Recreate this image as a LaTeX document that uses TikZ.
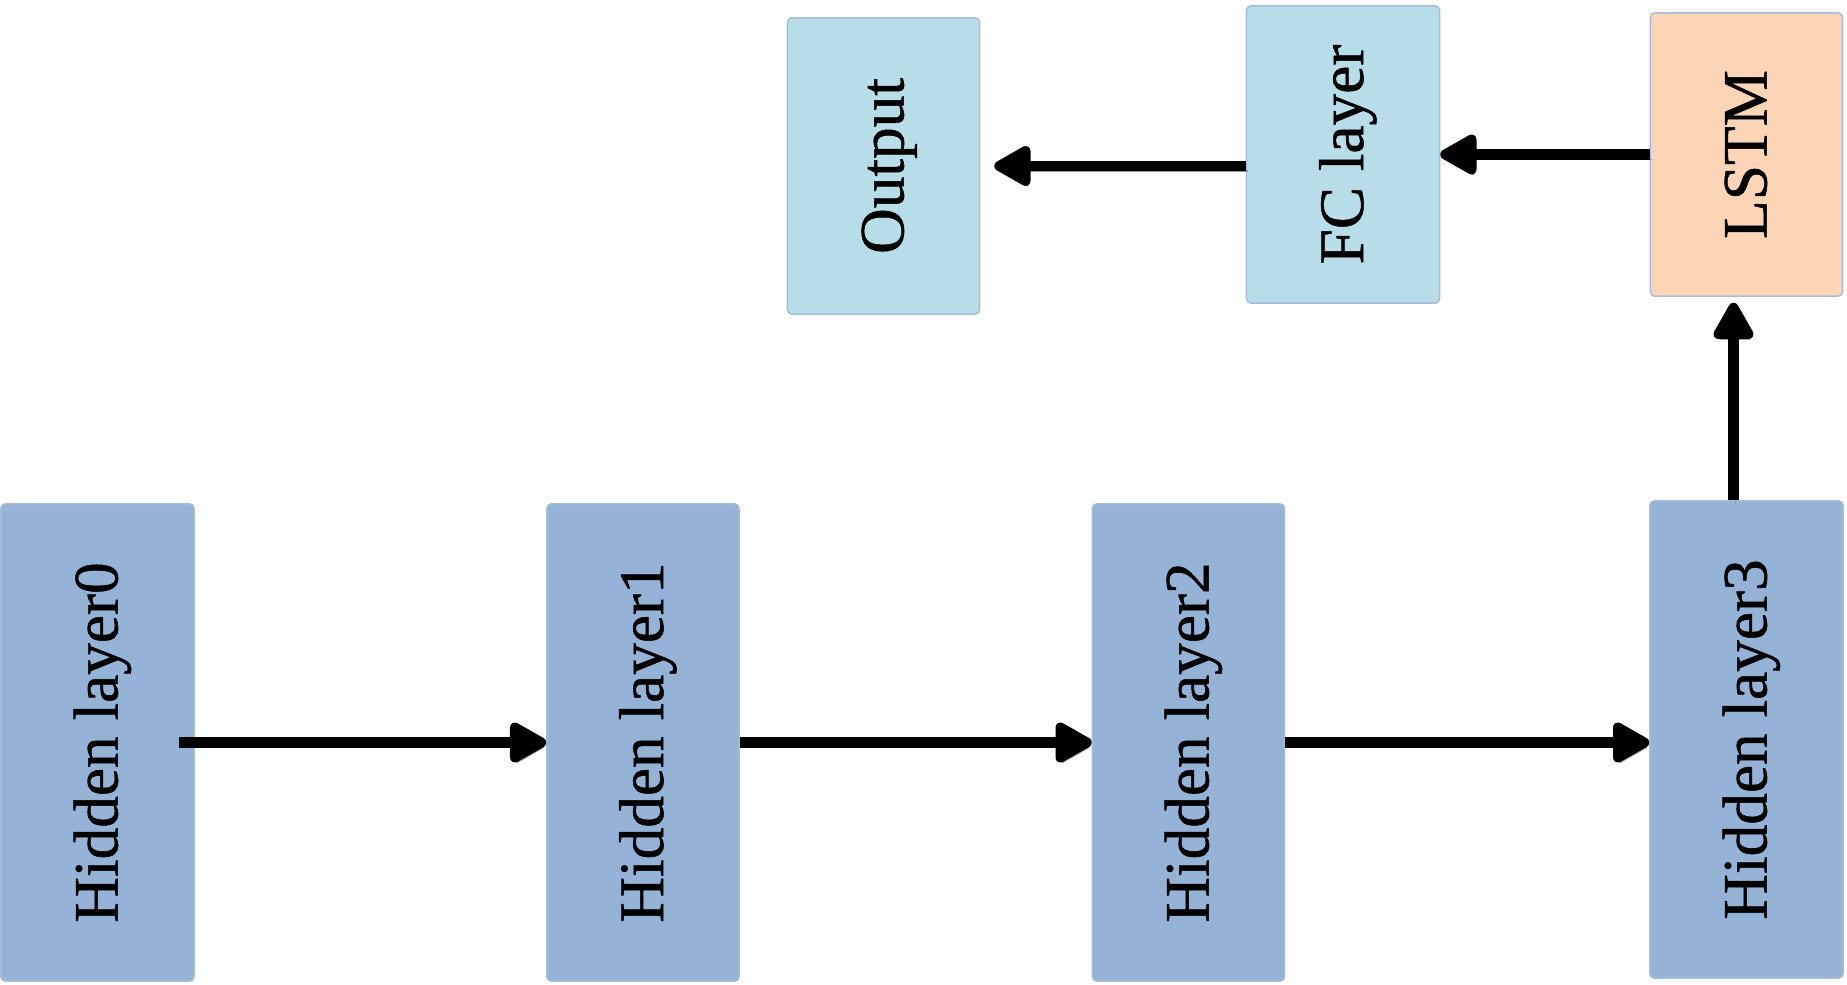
\documentclass[tikz,border=0pt]{standalone}
\usepackage{fontspec}
\setmainfont{Liberation Serif}
\newfontfamily\labelfont{Liberation Serif}[FakeBold=0.8]
\usepackage{xcolor}
\usetikzlibrary{positioning, calc, arrows.meta}

\definecolor{hiddenblue}{HTML}{95B3D7}
\definecolor{fcaqua}{HTML}{B7DDE8}
\definecolor{lstmorange}{HTML}{FBD5B5}
\definecolor{edgeblue}{HTML}{A3BDDB}

\tikzset{
    layerbox/.style={draw=edgeblue, line width=0.4pt, rounded corners=1.2pt,
        minimum width=1.92cm, text=black, font=\labelfont\fontsize{18}{20}\selectfont,
        rotate=90, inner sep=0pt, text height=0.54cm, text depth=0.14cm},
    arr/.style={line width=0.1cm, -{Triangle[length=0.42cm, width=0.44cm, round]},
        preaction={draw=black!40, transform canvas={xshift=0.02cm, yshift=-0.05cm}}}
}

\begin{document}
\begin{tikzpicture}[x=0.01cm, y=-0.01cm]
                    \useasboundingbox (0,0) rectangle (1847,985);
                    \node[layerbox, fill=hiddenblue, minimum height=1.93cm, minimum width=4.77cm] (h0) at (97.5,742.5) {Hidden layer0};
                    \node[layerbox, fill=hiddenblue, minimum height=1.92cm, minimum width=4.77cm] (h1) at (643,742.5) {Hidden layer1};
                    \node[layerbox, fill=hiddenblue, minimum height=1.92cm, minimum width=4.77cm] (h2) at (1188.5,742.5) {Hidden layer2};
                    \node[layerbox, fill=hiddenblue, minimum height=1.93cm, minimum width=4.77cm] (h3) at (1746.5,739.5) {Hidden layer3};
                    \node[layerbox, fill=fcaqua, minimum height=1.92cm, minimum width=2.96cm] (out) at (883.5,166) {Output};
                    \node[layerbox, fill=fcaqua, minimum height=1.93cm, minimum width=2.97cm] (fc) at (1343,154.5) {FC layer};
                    \node[layerbox, fill=lstmorange, minimum height=1.92cm, minimum width=2.83cm] (lstm) at (1746.5,154.5) {LSTM};
                    \draw[arr, shorten <=-0.16cm] (h0.south) -- (h1.north);
                    \draw[arr] (h1.south) -- (h2.north);
                    \draw[arr] (h2.south) -- (h3.north |- h2.north);
                    \draw[arr, shorten >=0.06cm] ([xshift=-0.13cm]h3.east) -- ([xshift=-0.13cm]lstm.west);
                    \draw[arr] (lstm.north) -- (fc.south);
                    \draw[arr, shorten >=0.14cm] (fc.north |- out.south) -- (out.south);
                \end{tikzpicture}
\end{document}
